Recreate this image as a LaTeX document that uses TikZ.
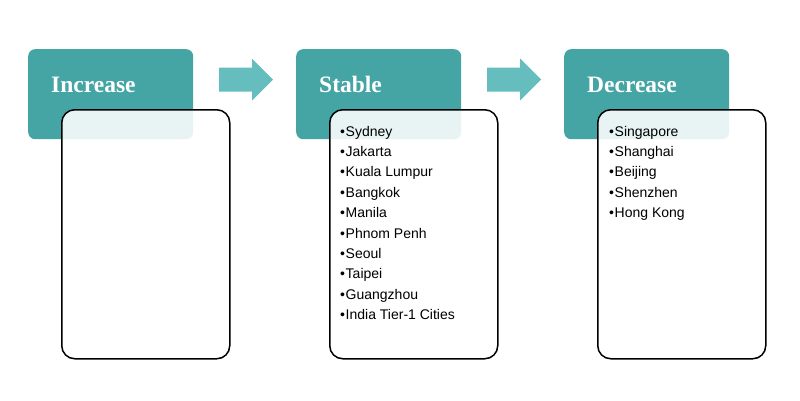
\documentclass[tikz,border=0pt]{standalone}
\usepackage{fontspec}
\setmainfont{Liberation Sans}
\newfontfamily\headfont{Liberation Serif}
\definecolor{teal1}{HTML}{45A5A5}
\definecolor{teal2}{HTML}{66BDBD}
\begin{document}
\begin{tikzpicture}[x=1pt,y=-1pt,
  headbox/.style={fill=teal1, rounded corners=7pt, draw=none, inner sep=0pt, minimum width=165pt, minimum height=90pt, anchor=north west},
  listbox/.style={draw=black, line width=1.5pt, fill=white, fill opacity=0.88, rounded corners=13pt, inner sep=0pt, minimum width=168pt, minimum height=249pt, anchor=north west},
  headtext/.style={text=white, font=\headfont\bfseries\fontsize{23.5}{23.5}\selectfont, anchor=base west, inner sep=0pt},
  item/.style={font=\fontsize{14}{16}\selectfont, anchor=base west, inner sep=0pt, text=black},
  flow/.style={fill=teal2}]
\useasboundingbox (0,0) rectangle (800,400);
% header boxes
\node[headbox] (h1) at (28,49) {};
\node[headbox] (h2) at (296,49) {};
\node[headbox] (h3) at (564,49) {};
% list boxes
\node[listbox] (l1) at (61,109) {};
\node[listbox] (l2) at (329,109) {};
\node[listbox] (l3) at (597,109) {};
% titles
\node[headtext] (t1) at (51,92) {Increase};
\node[headtext] (t2) at (319,92) {Stable};
\node[headtext] (t3) at (587,92) {Decrease};
% arrows
\coordinate (a1) at (219,79.5);
\coordinate (a2) at (487,79.5);
\foreach \a in {a1,a2}{
  \fill[flow] (\a) ++(0,-12) -- ++(33,0) -- ++(0,-9) -- ++(21,21) -- ++(-21,21) -- ++(0,-9) -- ++(-33,0) -- cycle;
}
% stable list
\foreach [count=\i] \c in {Sydney,Jakarta,Kuala Lumpur,Bangkok,Manila,Phnom Penh,Seoul,Taipei,Guangzhou,India Tier-1 Cities}{
  \node[item] (s\i) at (340,{136+20.4*(\i-1)}) {\textbullet\hspace{0.6pt}\c};
}
% decrease list
\foreach [count=\i] \c in {Singapore,Shanghai,Beijing,Shenzhen,Hong Kong}{
  \node[item] (d\i) at (609,{136+20.4*(\i-1)}) {\textbullet\hspace{0.6pt}\c};
}
\end{tikzpicture}
\end{document}
